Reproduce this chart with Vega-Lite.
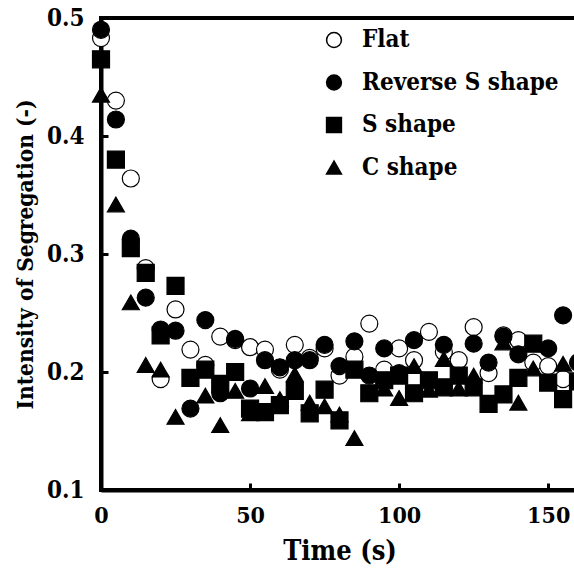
{
  "$schema": "https://vega.github.io/schema/vega-lite/v6.json",
  "width": 477,
  "height": 472,
  "autosize": {"type": "none"},
  "padding": {"left": 101, "top": 18, "right": 0, "bottom": 83},
  "background": "white",
  "config": {
    "font": "DejaVu Serif Condensed",
    "view": {"stroke": "black", "strokeWidth": 4},
    "axis": {
      "domainColor": "black", "domainWidth": 4, "tickColor": "black", "tickWidth": 3, "tickSize": -7,
      "labelColor": "black", "labelFontWeight": "bold", "labelFont": "DejaVu Serif Condensed",
      "titleColor": "black", "titleFontWeight": "bold", "titleFont": "DejaVu Serif Condensed",
      "grid": false, "zindex": 1
    },
    "legend": {"labelFont": "DejaVu Serif Condensed"}
  },
  "data": {"values": [
    {"t": 0, "v": 0.483, "s": "Flat"}, {"t": 5, "v": 0.430, "s": "Flat"}, {"t": 10, "v": 0.364, "s": "Flat"}, {"t": 15, "v": 0.288, "s": "Flat"},
    {"t": 20, "v": 0.194, "s": "Flat"}, {"t": 25, "v": 0.253, "s": "Flat"}, {"t": 30, "v": 0.219, "s": "Flat"}, {"t": 35, "v": 0.206, "s": "Flat"},
    {"t": 40, "v": 0.230, "s": "Flat"}, {"t": 45, "v": 0.227, "s": "Flat"}, {"t": 50, "v": 0.221, "s": "Flat"}, {"t": 55, "v": 0.219, "s": "Flat"},
    {"t": 60, "v": 0.202, "s": "Flat"}, {"t": 65, "v": 0.223, "s": "Flat"}, {"t": 70, "v": 0.212, "s": "Flat"}, {"t": 75, "v": 0.220, "s": "Flat"},
    {"t": 80, "v": 0.197, "s": "Flat"}, {"t": 85, "v": 0.213, "s": "Flat"}, {"t": 90, "v": 0.241, "s": "Flat"}, {"t": 95, "v": 0.202, "s": "Flat"},
    {"t": 100, "v": 0.220, "s": "Flat"}, {"t": 105, "v": 0.210, "s": "Flat"}, {"t": 110, "v": 0.234, "s": "Flat"}, {"t": 115, "v": 0.217, "s": "Flat"},
    {"t": 120, "v": 0.210, "s": "Flat"}, {"t": 125, "v": 0.238, "s": "Flat"}, {"t": 130, "v": 0.199, "s": "Flat"}, {"t": 135, "v": 0.231, "s": "Flat"},
    {"t": 140, "v": 0.227, "s": "Flat"}, {"t": 145, "v": 0.208, "s": "Flat"}, {"t": 150, "v": 0.205, "s": "Flat"}, {"t": 155, "v": 0.194, "s": "Flat"},

    {"t": 0, "v": 0.435, "s": "C shape"}, {"t": 5, "v": 0.342, "s": "C shape"}, {"t": 10, "v": 0.259, "s": "C shape"}, {"t": 15, "v": 0.206, "s": "C shape"},
    {"t": 20, "v": 0.202, "s": "C shape"}, {"t": 25, "v": 0.162, "s": "C shape"}, {"t": 35, "v": 0.180, "s": "C shape"}, {"t": 40, "v": 0.155, "s": "C shape"},
    {"t": 45, "v": 0.184, "s": "C shape"}, {"t": 50, "v": 0.165, "s": "C shape"}, {"t": 55, "v": 0.188, "s": "C shape"}, {"t": 60, "v": 0.177, "s": "C shape"},
    {"t": 65, "v": 0.198, "s": "C shape"}, {"t": 70, "v": 0.174, "s": "C shape"}, {"t": 75, "v": 0.171, "s": "C shape"}, {"t": 80, "v": 0.164, "s": "C shape"},
    {"t": 85, "v": 0.144, "s": "C shape"}, {"t": 95, "v": 0.186, "s": "C shape"}, {"t": 100, "v": 0.178, "s": "C shape"}, {"t": 105, "v": 0.205, "s": "C shape"},
    {"t": 110, "v": 0.185, "s": "C shape"}, {"t": 115, "v": 0.211, "s": "C shape"}, {"t": 120, "v": 0.186, "s": "C shape"}, {"t": 125, "v": 0.197, "s": "C shape"},
    {"t": 135, "v": 0.225, "s": "C shape"}, {"t": 140, "v": 0.174, "s": "C shape"}, {"t": 145, "v": 0.203, "s": "C shape"}, {"t": 155, "v": 0.207, "s": "C shape"},

    {"t": 0, "v": 0.490, "s": "Reverse S shape"}, {"t": 5, "v": 0.414, "s": "Reverse S shape"}, {"t": 10, "v": 0.313, "s": "Reverse S shape"}, {"t": 15, "v": 0.263, "s": "Reverse S shape"},
    {"t": 20, "v": 0.236, "s": "Reverse S shape"}, {"t": 25, "v": 0.235, "s": "Reverse S shape"}, {"t": 30, "v": 0.169, "s": "Reverse S shape"}, {"t": 35, "v": 0.244, "s": "Reverse S shape"},
    {"t": 40, "v": 0.182, "s": "Reverse S shape"}, {"t": 45, "v": 0.228, "s": "Reverse S shape"}, {"t": 50, "v": 0.186, "s": "Reverse S shape"}, {"t": 55, "v": 0.210, "s": "Reverse S shape"},
    {"t": 60, "v": 0.204, "s": "Reverse S shape"}, {"t": 65, "v": 0.210, "s": "Reverse S shape"}, {"t": 70, "v": 0.210, "s": "Reverse S shape"}, {"t": 75, "v": 0.223, "s": "Reverse S shape"},
    {"t": 80, "v": 0.205, "s": "Reverse S shape"}, {"t": 85, "v": 0.226, "s": "Reverse S shape"}, {"t": 90, "v": 0.197, "s": "Reverse S shape"}, {"t": 95, "v": 0.220, "s": "Reverse S shape"},
    {"t": 100, "v": 0.199, "s": "Reverse S shape"}, {"t": 105, "v": 0.227, "s": "Reverse S shape"}, {"t": 115, "v": 0.223, "s": "Reverse S shape"}, {"t": 125, "v": 0.224, "s": "Reverse S shape"},
    {"t": 130, "v": 0.208, "s": "Reverse S shape"}, {"t": 135, "v": 0.230, "s": "Reverse S shape"}, {"t": 140, "v": 0.215, "s": "Reverse S shape"}, {"t": 150, "v": 0.220, "s": "Reverse S shape"},
    {"t": 155, "v": 0.248, "s": "Reverse S shape"}, {"t": 160, "v": 0.208, "s": "Reverse S shape"},

    {"t": 0, "v": 0.465, "s": "S shape"}, {"t": 5, "v": 0.380, "s": "S shape"}, {"t": 10, "v": 0.305, "s": "S shape"}, {"t": 15, "v": 0.284, "s": "S shape"},
    {"t": 20, "v": 0.231, "s": "S shape"}, {"t": 25, "v": 0.273, "s": "S shape"}, {"t": 30, "v": 0.195, "s": "S shape"}, {"t": 35, "v": 0.202, "s": "S shape"},
    {"t": 40, "v": 0.190, "s": "S shape"}, {"t": 45, "v": 0.200, "s": "S shape"}, {"t": 50, "v": 0.169, "s": "S shape"}, {"t": 55, "v": 0.166, "s": "S shape"},
    {"t": 60, "v": 0.172, "s": "S shape"}, {"t": 65, "v": 0.184, "s": "S shape"}, {"t": 70, "v": 0.165, "s": "S shape"}, {"t": 75, "v": 0.185, "s": "S shape"},
    {"t": 80, "v": 0.159, "s": "S shape"}, {"t": 85, "v": 0.202, "s": "S shape"}, {"t": 90, "v": 0.182, "s": "S shape"}, {"t": 95, "v": 0.193, "s": "S shape"},
    {"t": 100, "v": 0.197, "s": "S shape"}, {"t": 105, "v": 0.182, "s": "S shape"}, {"t": 110, "v": 0.193, "s": "S shape"}, {"t": 115, "v": 0.187, "s": "S shape"},
    {"t": 120, "v": 0.197, "s": "S shape"}, {"t": 125, "v": 0.187, "s": "S shape"}, {"t": 130, "v": 0.173, "s": "S shape"}, {"t": 135, "v": 0.181, "s": "S shape"},
    {"t": 140, "v": 0.195, "s": "S shape"}, {"t": 145, "v": 0.224, "s": "S shape"}, {"t": 150, "v": 0.191, "s": "S shape"}, {"t": 155, "v": 0.177, "s": "S shape"},
    {"t": 160, "v": 0.192, "s": "S shape"}
  ]},
  "mark": {"type": "point", "filled": true, "stroke": "black", "strokeWidth": 1.2, "opacity": 1, "size": 289},
  "encoding": {
    "x": {
      "field": "t", "type": "quantitative",
      "scale": {"domain": [0, 160], "nice": false},
      "axis": {"title": "Time (s)", "values": [0, 50, 100, 150], "format": "d", "labelFontSize": 23, "titleFontSize": 27, "labelPadding": 21, "titlePadding": 11, "labelFlush": false}
    },
    "y": {
      "field": "v", "type": "quantitative",
      "scale": {"domain": [0.1, 0.5], "nice": false},
      "axis": {"title": "Intensity of Segregation (-)", "values": [0.1, 0.2, 0.3, 0.4, 0.5], "format": ".1f", "labelFontSize": 24, "titleFontSize": 22.5, "labelPadding": 24, "titlePadding": 9, "labelFlush": false}
    },
    "shape": {
      "field": "s", "type": "nominal",
      "scale": {"domain": ["Flat", "Reverse S shape", "S shape", "C shape"], "range": ["circle", "circle", "square", "triangle-up"]},
      "legend": {"title": null, "orient": "none", "legendX": 221, "legendY": 10, "padding": 0, "labelFontSize": 24, "labelFontWeight": "bold", "labelColor": "black", "labelLimit": 400, "symbolSize": 220, "labelOffset": 16, "rowPadding": 18.5,
        "encode": {"symbols": {"update": {"stroke": {"value": "black"}, "strokeWidth": {"value": 1}, "opacity": {"value": 1}}}}}
    },
    "fill": {
      "field": "s", "type": "nominal",
      "scale": {"domain": ["Flat", "Reverse S shape", "S shape", "C shape"], "range": ["white", "black", "black", "black"]},
      "legend": {"title": null, "orient": "none", "legendX": 221, "legendY": 10, "padding": 0, "labelFontSize": 24, "labelFontWeight": "bold", "labelColor": "black", "labelLimit": 400, "symbolSize": 220, "labelOffset": 16, "rowPadding": 18.5,
        "encode": {"symbols": {"update": {"stroke": {"value": "black"}, "strokeWidth": {"value": 1}, "opacity": {"value": 1}}}}}
    }
  }
}
